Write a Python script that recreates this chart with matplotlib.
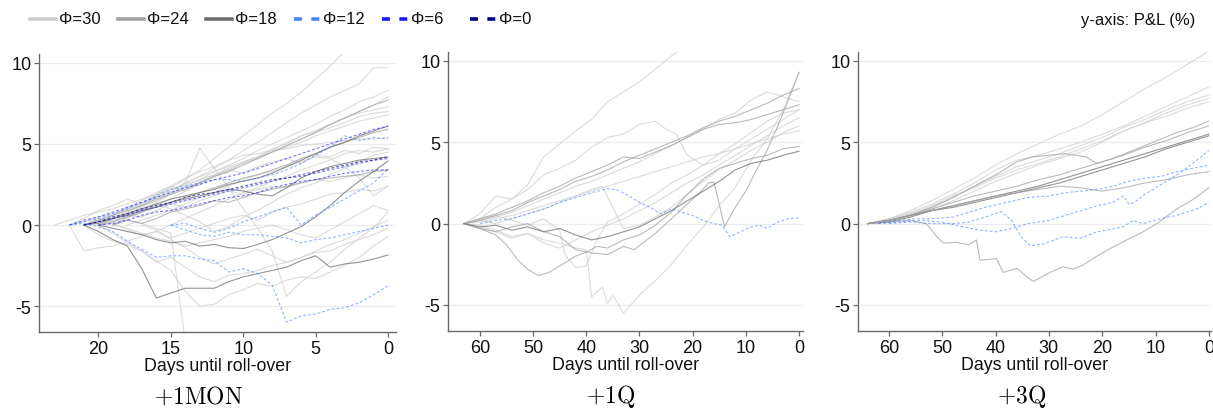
import numpy as np
import matplotlib

matplotlib.use("Agg")
import matplotlib.pyplot as plt
from matplotlib.lines import Line2D

plt.rcParams["font.family"] = ["Liberation Sans", "DejaVu Sans"]
plt.rcParams["mathtext.fontset"] = "cm"
plt.rcParams["axes.unicode_minus"] = False

# ---- legend levels and styles ----
PHI_LEVELS = [30, 24, 18, 12, 6, 0]
PHI_COLORS = {30: "#cfcfcf", 24: "#a3a3a3", 18: "#6f6f6f",
              12: "#4a84ff", 6: "#1a1aff", 0: "#00008b"}
PANEL_TITLES = [r"$+1\mathrm{MON}$", r"$+1\mathrm{Q}$", r"$+3\mathrm{Q}$"]
X_TICKS = [[0, 5, 10, 15, 20], [0, 10, 20, 30, 40, 50, 60], [0, 10, 20, 30, 40, 50, 60]]
Y_TICKS = [-5, 0, 5, 10]

# ---- P&L paths (%): (phi, start day of a daily path | list of days, values) ----
PATHS_1MON = [
    (30, 21, [0, 0.3, 0.6, 1.0, 1.3, 1.8, 2.3, 2.8, 3.4, 4.1, 4.8, 5.5, 6.2, 6.9, 7.5, 8.2, 9.0, 9.8, 10.7, 11.4, 12.1, 12.8]),
    (30, 22, [0, 0.2, 0.5, 0.7, 1.0, 1.3, 1.7, 2.1, 2.6, 3.0, 3.5, 4.0, 4.6, 5.1, 5.7, 6.3, 6.9, 7.4, 7.9, 8.3, 8.7, 9.7, 9.7]),
    (30, 20, [0, 0.4, 0.7, 1.1, 1.5, 1.9, 2.4, 2.8, 3.3, 3.7, 4.1, 4.6, 5.0, 5.4, 5.8, 6.2, 6.7, 7.1, 7.6, 7.9, 8.3]),
    (30, 19, [0, 0.5, 0.8, 1.2, 1.6, 2.1, 2.5, 3.0, 3.3, 3.9, 4.2, 4.6, 5.1, 5.5, 5.8, 6.2, 6.6, 7.0, 7.4, 7.9]),
    (30, 21, [0, 0.2, 0.5, 0.8, 1.2, 1.5, 2.0, 2.3, 2.6, 3.1, 3.5, 3.8, 4.2, 4.7, 5.0, 5.5, 5.8, 6.2, 6.6, 6.9, 7.1, 7.3]),
    (30, 23, [0, 0.3, 0.6, 0.8, 1.0, 1.3, 1.6, 1.9, 2.2, 2.5, 2.8, 3.1, 3.4, 3.8, 4.1, 4.5, 4.9, 5.3, 5.7, 6.0, 6.3, 6.7, 6.9, 7.0]),
    (30, 22, [0, -1.6, -1.4, -1.3, -1.0, -0.7, -0.4, 0.0, 0.4, 0.8, 1.2, 1.6, 2.0, 2.3, 2.7, 3.0, 3.4, 3.7, 4.0, 4.4, 4.6, 4.5, 4.7]),
    (30, 20, [0, 0.3, 0.5, 0.9, 1.4, 1.9, 2.6, 4.75, 3.5, 2.3, 1.0, -0.2, -1.6, -4.4, -3.5, -2.9, -2.3, -1.5, -0.8, -0.2, 0.8]),
    (30, 19, [0, 0.3, 0.1, -0.2, -0.5, -7.2, -8.8, -9.5, -10.1, -10.6, -10.2, -11.0, -11.4, -11.1, -11.8, -12.2, -12.0, -12.6, -12.9, -13.2]),
    (30, 21, [0, -0.6, -1.0, -1.2, -1.6, -2.3, -2.0, -2.6, -3.2, -3.5, -3.1, -3.0, -2.8, -2.5, -2.3, -2.0, -1.6, -1.2, -0.9, -0.5, -0.1, 0.3]),
    (30, 20, [0, -0.5, -1.1, -1.6, -2.2, -2.8, -4.1, -5.0, -4.9, -4.3, -4.0, -3.6, -3.8, -3.4, -3.2, -3.3, -2.9, -2.5, -2.0, -1.3, -0.7]),
    (30, 20, [0, 0.1, -0.3, -0.6, -0.4, -0.8, -0.5, -0.2, 0.1, 0.4, 0.6, 0.3, 0.8, 1.1, 1.3, 1.6, 1.9, 2.0, 2.2, 2.1, 2.4]),
    (30, 21, [0, 0.4, 0.2, 0.6, 0.5, 0.9, 1.3, 1.1, 1.5, 1.8, 2.1, 1.9, 2.2, 2.4, 2.3, 2.6, 2.8, 2.7, 2.9, 3.1, 2.9, 3.0]),
    (30, 19, [0, 0.4, 0.8, 1.3, 1.0, 0.6, 0.2, -0.4, -0.1, 0.5, 0.9, 1.4, 1.9, 2.3, 2.6, 3.1, 3.5, 3.9, 4.3, 4.5]),
    (30, 20, [0, 0.4, 0.8, 1.2, 1.7, 2.1, 2.6, 3.0, 3.3, 3.6, 3.9, 4.2, 4.5, 4.8, 5.1, 5.5, 5.8, 6.1, 6.4, 6.6, 6.8]),
    (30, 22, [0, 0.4, 0.9, 1.2, 1.6, 1.3, 1.9, 2.4, 2.1, 2.7, 3.0, 3.4, 3.2, 3.6, 3.9, 4.1, 3.8, 4.3, 4.2, 4.6, 4.4, 4.8, 4.7]),
    (30, 18, [0, 0.3, 0.6, 0.9, 1.3, 1.7, 2.0, 2.4, 2.8, 3.1, 3.3, 3.6, 3.9, 4.2, 4.1, 3.6, 2.9, 1.8, 2.4]),
    (30, 17, [0, -0.3, -0.9, -1.4, -2.0, -2.4, -2.1, -1.8, -1.5, -1.9, -2.3, -2.0, -1.7, -1.6, -1.2, -0.9, -0.6, -0.2]),
    (30, 21, [0, 0.3, 0.6, 1.1, 1.5, 2.0, 2.4, 2.9, 3.3, 3.6, 4.0, 4.3, 4.4, 4.6, 4.7, 4.9, 5.0, 5.1, 5.2, 5.3, 5.3, 5.4]),
    (30, 19, [0, -0.2, -0.5, -0.8, -1.0, -1.3, -1.1, -0.9, -0.7, -0.4, -0.2, 0.0, -0.3, -0.6, -0.8, -0.3, 0.2, 0.7, 1.2, 0.9]),
    (24, 21, [0, 0.3, 0.6, 0.9, 1.2, 1.6, 1.9, 2.2, 2.6, 3.0, 3.3, 3.7, 4.1, 4.5, 4.9, 5.3, 5.7, 6.2, 6.6, 7.0, 7.4, 7.7]),
    (24, 20, [0, 0.2, 0.5, 0.8, 1.1, 1.4, 1.7, 2.0, 2.3, 2.6, 2.9, 3.1, 3.4, 3.7, 4.1, 4.4, 4.8, 5.1, 5.4, 5.7, 5.9]),
    (24, 19, [0, 0.3, 0.1, 0.4, 0.8, 1.0, 1.2, 1.5, 1.4, 1.7, 2.0, 2.2, 2.4, 2.6, 2.8, 2.9, 3.0, 3.1, 3.3, 3.4]),
    (18, 21, [0, 0.1, 0.4, 0.7, 1.0, 1.3, 1.6, 1.8, 2.0, 2.2, 2.5, 2.7, 2.9, 3.2, 3.6, 4.0, 4.4, 4.8, 5.1, 5.5, 5.8, 6.1]),
    (18, 21, [0, 0.2, 0.4, 0.6, 0.9, 1.1, 1.4, 1.6, 1.8, 2.0, 2.2, 2.1, 1.9, 1.8, 2.3, 2.9, 3.3, 3.6, 3.8, 4.0, 4.1, 4.2]),
    (18, 20, [0, -0.2, -0.4, -0.6, -0.9, -1.1, -1.0, -1.3, -1.2, -1.4, -1.45, -1.2, -0.9, -0.5, -0.1, 0.5, 1.2, 2.0, 2.7, 3.3, 3.95]),
    (18, 21, [0, -0.4, -0.9, -1.3, -2.7, -4.5, -4.2, -3.9, -3.9, -3.9, -3.5, -3.2, -3.0, -2.8, -2.6, -2.2, -1.9, -2.6, -2.4, -2.3, -2.1, -1.85]),
    (12, 22, [0, 0.2, 0.4, 0.7, 1.0, 1.4, 1.8, 2.2, 2.4, 2.6, 2.8, 2.8, 2.7, 2.9, 3.1, 3.4, 3.8, 4.3, 4.8, 5.5, 5.2, 5.4, 5.3]),
    (12, 22, [0, 0.1, -0.1, -0.4, -1.0, -1.5, -2.0, -1.9, -1.9, -2.1, -2.2, -2.9, -2.7, -3.0, -3.7, -6.0, -5.6, -5.5, -5.2, -5.1, -4.8, -4.3, -3.75]),
    (12, 15, [0, -0.3, -0.6, -0.7, -0.45, -0.6, -0.6, -0.7, -0.8, -1.1, -0.9, -0.8, -0.6, -0.4, -0.2, 0.0]),
    (12, 15, [0, 0.1, -0.2, -0.45, -0.2, 0.2, 0.5, 0.8, 1.1, 0.0, 0.6, 1.1, 1.6, 2.1, 2.6, 3.45]),
    (6, 22, [0, 0.3, 0.5, 0.8, 1.1, 1.4, 1.7, 2.0, 2.3, 2.5, 2.8, 3.0, 3.2, 3.5, 3.8, 4.1, 4.4, 4.7, 5.0, 5.3, 5.6, 5.9, 6.1]),
    (6, 21, [0, 0.2, 0.4, 0.6, 0.9, 1.1, 1.3, 1.5, 1.7, 1.9, 2.1, 2.3, 2.5, 2.7, 2.9, 3.0, 3.2, 3.4, 3.6, 3.8, 4.0, 4.1]),
    (6, 20, [0, 0.1, 0.3, 0.6, 0.8, 0.9, 1.1, 1.3, 1.5, 1.7, 1.8, 2.0, 2.3, 2.5, 2.7, 2.8, 3.0, 3.2, 3.3, 3.4, 3.4]),
    (0, 21, [0, 0.2, 0.5, 0.7, 1.0, 1.2, 1.4, 1.7, 1.9, 2.0, 2.2, 2.4, 2.6, 2.8, 2.9, 3.1, 3.3, 3.5, 3.7, 3.9, 4.0, 4.2]),
]

DAYS_Q = [63, 60, 57, 54, 51, 48, 45, 42, 39, 36, 33, 30, 27, 24, 21, 18, 15, 12, 9, 6, 3, 0]

PATHS_1Q = [
    (30, [63, 60, 57, 54, 51, 48, 45, 42, 39, 36, 33, 30, 27, 24, 21, 18],
     [0, 0.6, 1.7, 1.5, 2.4, 4.1, 4.9, 5.7, 6.4, 7.5, 8.1, 8.7, 9.5, 10.3, 11.0, 11.7]),
    (30, [63, 60, 57, 54, 51, 48, 45, 42, 39, 36, 33, 30, 27, 25, 23, 22, 21, 18, 15, 12, 9, 6, 3, 0],
     [0, 0.3, 1.0, 1.5, 2.1, 3.0, 3.4, 3.9, 4.7, 5.3, 5.5, 6.1, 6.3, 5.8, 5.5, 4.8, 4.2, 3.6, 3.9, 4.6, 5.2, 5.8, 6.4, 7.0]),
    (30, [63, 60, 57, 54, 51, 48, 45, 42, 40, 39, 37, 36, 35, 33, 30, 27, 24, 21, 18, 15, 12, 9, 6, 3, 0],
     [0, -0.1, -0.4, -0.8, -0.6, -1.0, -1.2, -1.5, -1.6, -4.5, -3.9, -4.9, -4.4, -5.5, -4.4, -3.5, -2.5, -1.3, -0.2, 1.1, 2.2, 3.9, 5.2, 7.0, 9.3]),
    (30, DAYS_Q,
     [0, 0.2, 0.4, 0.7, 1.1, 1.5, 1.9, 2.3, 2.6, 3.0, 3.4, 3.8, 4.3, 4.8, 5.3, 5.8, 6.4, 6.8, 7.6, 8.1, 7.8, 7.5]),
    (30, [63, 60, 57, 54, 51, 48, 45, 42, 39, 37, 35, 33, 30, 27, 24, 21, 18, 15, 12, 9, 6, 3, 0],
     [0, 0.2, 0.0, 0.3, 0.6, 0.9, 1.3, 1.7, 2.1, 2.3, 1.0, -0.3, -0.1, 0.4, 1.0, 1.8, 2.6, 3.3, 3.9, 4.5, 5.0, 5.6, 6.0]),
    (30, DAYS_Q,
     [0, -0.2, -0.5, -0.9, -0.6, -1.2, -1.5, -1.0, -0.5, -0.1, 0.3, 0.8, 1.3, 1.9, 2.5, 3.0, 3.6, 4.2, 4.8, 5.4, 6.0, 6.5]),
    (30, [63, 60, 57, 54, 51, 48, 45, 44, 42, 40, 38, 36, 33, 30, 27, 24, 21, 18, 15, 12, 9, 6, 3, 0],
     [0, 0.3, 0.5, 0.2, -0.1, 0.3, -0.4, -1.9, -2.7, -2.6, -1.0, 0.1, 0.6, 1.2, 1.8, 2.5, 3.0, 3.6, 4.3, 4.9, 5.6, 6.3, 6.8, 7.0]),
    (30, DAYS_Q,
     [0, 0.1, 0.3, 0.5, 0.8, 1.1, 1.4, 1.7, 2.0, 2.3, 2.6, 2.9, 3.2, 3.5, 3.8, 4.1, 4.3, 4.6, 4.9, 5.2, 5.5, 5.7]),
    (24, [63, 60, 57, 54, 51, 48, 45, 42, 39, 36, 33, 31, 29, 27, 24, 21, 19, 17, 16, 15, 14, 12, 10, 8, 6, 4, 2, 0],
     [0, -0.3, -0.5, -0.2, 0.0, -0.5, -0.8, -1.6, -1.8, -1.9, -1.4, -1.6, -1.1, -0.6, 0.3, 1.2, 1.8, 2.5, 2.55, 1.2, -0.2, 1.0, 2.0, 3.3, 4.5, 6.0, 7.6, 9.3]),
    (24, [63, 60, 57, 55, 53, 51, 49, 47, 45, 42, 40, 38, 36, 33, 30, 27, 24, 21, 18, 15, 12, 9, 6, 3, 0],
     [0, -0.3, -0.7, -1.3, -2.2, -2.8, -3.2, -3.0, -2.6, -2.0, -1.75, -1.4, -1.5, -1.0, -0.7, -0.1, 0.7, 1.8, 2.75, 3.4, 3.7, 4.0, 4.2, 4.6, 4.75]),
    (24, DAYS_Q,
     [0, 0.2, 0.5, 0.8, 1.3, 1.7, 2.1, 2.6, 2.9, 3.3, 3.8, 4.2, 4.6, 5.0, 5.4, 5.9, 6.3, 6.6, 7.0, 7.4, 7.9, 8.3]),
    (24, DAYS_Q,
     [0, 0.3, 0.6, 1.0, 1.4, 1.9, 2.3, 2.8, 3.2, 3.6, 4.1, 4.0, 4.4, 4.8, 5.3, 5.8, 6.1, 6.2, 6.4, 6.7, 7.0, 7.3]),
    (18, DAYS_Q,
     [0, -0.2, -0.1, -0.4, -0.2, -0.5, -0.3, -0.7, -1.0, -0.8, -0.5, -0.2, 0.3, 0.8, 1.4, 2.0, 2.6, 3.3, 3.7, 3.9, 4.2, 4.45]),
    (12, [60, 57, 54, 51, 48, 45, 42, 39, 36, 34, 32, 30, 28, 26, 24, 22, 20, 18, 16, 14.5, 13, 11, 9, 7.5, 6, 4, 2, 0],
     [0, 0.2, 0.3, 0.6, 0.9, 1.3, 1.6, 1.9, 2.15, 2.05, 1.7, 1.3, 1.0, 0.6, 0.9, 0.7, 0.5, 0.2, 0.0, -0.1, -0.8, -0.5, -0.2, -0.1, -0.3, 0.1, 0.3, 0.35]),
]

DAYS_3Q = [64, 60, 56, 52, 48, 44, 40, 36, 32, 28, 24, 20, 16, 12, 8, 4, 0]

PATHS_3Q = [
    (30, DAYS_3Q, [0, 0.3, 0.8, 1.4, 2.1, 2.8, 3.6, 4.3, 4.9, 5.5, 6.0, 6.7, 7.5, 8.3, 9.0, 9.8, 10.6]),
    (30, DAYS_3Q, [0, 0.3, 0.7, 1.2, 1.8, 2.5, 3.3, 3.9, 4.2, 4.6, 5.0, 5.5, 6.0, 6.6, 7.2, 7.8, 8.4]),
    (30, DAYS_3Q, [0, 0.2, 0.6, 1.0, 1.6, 2.3, 2.9, 3.5, 3.9, 4.3, 4.8, 5.3, 5.9, 6.4, 7.0, 7.5, 7.9]),
    (30, DAYS_3Q, [0, 0.3, 0.6, 1.1, 1.7, 2.2, 2.8, 3.3, 3.7, 4.1, 4.6, 5.1, 5.7, 6.2, 6.8, 7.3, 7.7]),
    (30, DAYS_3Q, [0, 0.2, 0.5, 0.9, 1.4, 2.0, 2.6, 3.1, 3.6, 4.0, 4.4, 5.0, 5.7, 6.2, 6.6, 7.1, 7.5]),
    (24, [64, 60, 56, 52, 48, 44, 40, 36, 33, 30, 27, 25, 23, 21, 18, 15, 12, 9, 6, 3, 0],
     [0, 0.2, 0.5, 1.0, 1.6, 2.3, 3.0, 3.8, 4.1, 4.2, 4.3, 4.2, 4.1, 3.7, 4.0, 4.4, 4.8, 5.2, 5.6, 5.9, 6.3]),
    (24, DAYS_3Q, [0, 0.2, 0.5, 0.9, 1.3, 1.7, 2.0, 2.3, 2.7, 3.0, 3.4, 3.8, 4.2, 4.7, 5.1, 5.6, 6.0]),
    (18, DAYS_3Q, [0, 0.1, 0.4, 0.8, 1.1, 1.4, 1.7, 2.0, 2.3, 2.7, 3.1, 3.5, 3.9, 4.3, 4.7, 5.1, 5.5]),
    (18, DAYS_3Q, [0, 0.2, 0.5, 0.8, 1.0, 1.3, 1.6, 1.9, 2.2, 2.5, 2.9, 3.3, 3.7, 4.1, 4.6, 5.0, 5.4]),
    (24, DAYS_3Q, [0, 0.2, 0.5, 0.8, 1.1, 1.4, 1.7, 1.9, 2.1, 2.3, 2.2, 2.0, 2.2, 2.5, 2.7, 3.0, 3.2]),
    (24, [64, 60, 56, 53, 51, 49.8, 47.3, 45, 43.6, 42.9, 39.8, 38.6, 36, 33.6, 32.9, 29.8, 27.3, 25.5, 23.6, 21, 18.6, 14.8, 12.3, 9.8, 6, 2.9, 0],
     [0, 0.1, 0.2, 0.0, -0.8, -1.2, -1.15, -1.3, -1.0, -2.25, -2.15, -3.0, -2.75, -3.4, -3.55, -3.0, -2.65, -2.8, -2.55, -2.0, -1.55, -0.9, -0.5, 0.0, 0.9, 1.5, 2.2]),
    (12, [60, 56, 52, 48, 45, 42, 39, 37, 35, 33.5, 31, 27.3, 24.2, 21, 19.2, 16, 14.2, 12.3, 9.2, 6.1, 2.3, 0],
     [0, 0.1, 0.0, 0.0, 0.1, 0.4, 0.75, 0.2, -0.9, -1.35, -1.25, -0.8, -0.9, -0.5, -0.4, -0.2, 0.2, 0.0, 0.3, 0.5, 0.9, 1.3]),
    (12, [62, 58, 54, 50, 46, 43, 40, 37, 34, 30, 27, 24, 21, 18, 16, 15, 14, 12, 9, 6, 3, 0],
     [0, 0.1, 0.2, 0.1, -0.2, -0.4, -0.5, -0.3, 0.0, 0.2, 0.5, 0.8, 1.1, 1.3, 1.7, 1.2, 1.3, 1.8, 2.4, 3.0, 3.7, 4.5]),
    (12, [62, 58, 55, 52, 48, 45, 42, 38, 34, 30, 27, 24, 21, 18, 15, 12, 9, 6, 3, 0],
     [0, 0.2, 0.3, 0.3, 0.4, 0.7, 1.0, 1.3, 1.6, 1.7, 1.9, 2.0, 2.1, 2.3, 2.6, 2.8, 2.9, 3.2, 3.4, 3.6]),
]

PANELS = [PATHS_1MON, PATHS_1Q, PATHS_3Q]
XLIMS = [(24.1, -0.55), (66.0, -0.75), (65.8, -0.4)]
YLIM = (-6.6, 10.55)

# axes boxes in figure pixels: left, top, right, bottom
W, H = 1213, 410
BOXES = [(39, 55, 396, 333), (448, 53, 803, 332), (858, 53, 1211, 332)]
TITLE_X = [199, 611, 1022]


def draw_path(ax, phi, days, vals):
    if isinstance(days, int):
        days = np.arange(days, -1, -1)
    style = dict(color=PHI_COLORS[phi], lw=0.8, alpha=0.75, zorder=2)
    if phi <= 12:
        style.update(ls=(0, (2.6, 1.8)), alpha=0.6, zorder=3)
    ax.plot(days, vals, **style)


def main():
    fig = plt.figure(figsize=(W / 100, H / 100), dpi=100)

    for k, paths in enumerate(PANELS):
        l, t, r, b = BOXES[k]
        ax = fig.add_axes([l / W, 1 - b / H, (r - l) / W, (b - t) / H])
        for phi, days, vals in paths:
            draw_path(ax, phi, days, vals)

        ax.set_xlim(*XLIMS[k])
        ax.set_ylim(*YLIM)
        ax.set_xticks(X_TICKS[k])
        ax.set_yticks(Y_TICKS)
        ax.grid(axis="y", color="#ececec", lw=0.9, zorder=0)
        ax.set_axisbelow(True)
        for side in ("top", "right"):
            ax.spines[side].set_visible(False)
        for side in ("left", "bottom"):
            ax.spines[side].set_color("#6a6a6a")
            ax.spines[side].set_linewidth(1.0)
        ax.tick_params(colors="#6a6a6a", labelcolor="#111111", labelsize=13,
                       length=3.5, width=0.9, pad=2)
        ax.set_xlabel("Days until roll-over", fontsize=12.8, labelpad=0, color="#111111")

        fig.text(TITLE_X[k] / W, 1 - 397 / H, PANEL_TITLES[k], fontsize=17,
                 ha="center", va="center")

    # legend row across the top
    for i, phi in enumerate(PHI_LEVELS):
        x0 = 30 + 88 * i
        ls = "-" if phi > 12 else (0, (2.2, 2.6))
        fig.add_artist(Line2D([x0 / W, (x0 + 26) / W], [1 - 20 / H] * 2,
                              color=PHI_COLORS[phi], lw=2.6, ls=ls,
                              transform=fig.transFigure))
        fig.text((x0 + 29) / W, 1 - 20 / H, f"Φ={phi}", fontsize=12,
                 ha="left", va="center", color="#111111")
    fig.text(1195 / W, 1 - 20 / H, "y-axis: P&L (%)", fontsize=12,
             ha="right", va="center", color="#111111")

    fig.savefig("out.png", dpi=100)


if __name__ == "__main__":
    main()
